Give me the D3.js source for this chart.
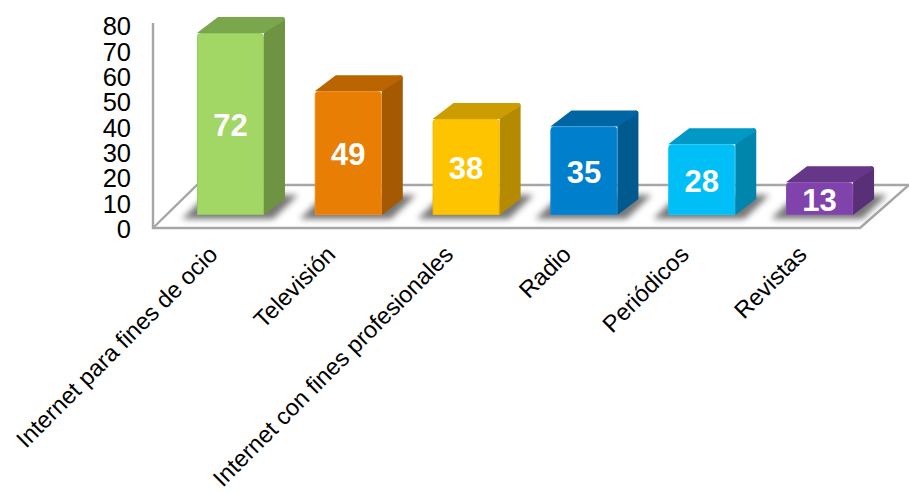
<!DOCTYPE html>
<html lang="es">
<head>
<meta charset="utf-8">
<style>
  html, body { margin: 0; padding: 0; background: #fff; }
  svg { display: block; font-family: "Liberation Sans", Arial, sans-serif; }
</style>
</head>
<body>
<svg id="chart" width="909" height="494"></svg>
<script src="https://cdn.jsdelivr.net/npm/d3@7/dist/d3.min.js"></script>
<script>
// Audience shares per medium
const categories = ["Internet para fines de ocio", "Televisión", "Internet con fines profesionales", "Radio", "Periódicos", "Revistas"];
const values = [72, 49, 38, 35, 28, 13];
const tickValues = [0, 10, 20, 30, 40, 50, 60, 70, 80];
const frontColors = ["#a2d665", "#e87e04", "#ffc400", "#0080cc", "#00bef6", "#8043ab"];
const edgeColors = ["#93c95a", "#f08a10", "#f2b800", "#0a8ad6", "#12c4fa", "#8a4db5"];
const topColors = ["#7ba74c", "#bb6502", "#cc9d00", "#0066a3", "#0098c5", "#663689"];
const sideColors = ["#6e9443", "#a45902", "#b38a00", "#005a8f", "#0085ad", "#592f78"];

const svg = d3.select("#chart");
const defs = svg.append("defs");
defs.append("filter").attr("id", "soft")
  .attr("x", "-30%").attr("y", "-60%").attr("width", "160%").attr("height", "220%")
  .append("feGaussianBlur").attr("stdDeviation", 3);

// Oblique projection: the bars sit mid-way across a floor seen from above
const baseY = 215;
const depthX = 21, depthY = 16;
const corner = 3;
const y = d3.scaleLinear().domain([0, 72]).range([baseY, baseY - 182]);
const x = d3.scaleBand().domain(categories).range([171.6, 878.4]).paddingInner(0.431).paddingOuter(0.215);

const wallX = 153, floorFrontY = 228, floorBackY = 185, wallTopY = 23;
const floorRight = 860, floorDX = 49;
const frameColor = "#a6a6a6";

// Floor and wall outline
const frame = svg.append("g").attr("fill", "none").attr("stroke", frameColor).attr("stroke-width", 2.4);
frame.append("path").attr("d", `M${wallX},${wallTopY}V${floorFrontY}H${floorRight}L${floorRight + floorDX},${floorBackY}`);
frame.append("path").attr("d", `M${wallX},${floorFrontY}L${wallX + floorDX - 5},${floorBackY}H${floorRight + floorDX}`);

// Value axis labels
const tickY = d3.scaleLinear().domain([0, 80]).range([229, 26]);
svg.append("g").selectAll("text").data(tickValues).join("text")
  .attr("x", 131).attr("y", d => tickY(d)).attr("dy", "0.36em")
  .attr("text-anchor", "end").attr("font-size", 25.5).attr("fill", "#000")
  .text(d => d);

const rows = categories.map((c, i) => ({ c, v: values[i], i }));

// Cast shadows on the floor
svg.append("g").selectAll("path").data(rows).join("path")
  .attr("d", d => {
    const l = x(d.c), w = x.bandwidth();
    return `M${l - 15},${baseY + 4}L${l + 10},${baseY - 20}H${l + w + 34}L${l + w + 9},${baseY + 4}Z`;
  })
  .attr("fill", "#5f5f5f").attr("opacity", 0.85).attr("filter", "url(#soft)");

const bars = svg.append("g").selectAll("g").data(rows).join("g");

// Right-hand face
bars.append("path")
  .attr("d", d => {
    const r = x(d.c) + x.bandwidth(), t = y(d.v);
    return `M${r},${baseY}L${r + depthX},${baseY - depthY}V${t - depthY + corner}Q${r + depthX},${t - depthY} ${r + depthX - corner},${t - depthY}L${r},${t}Z`;
  })
  .attr("fill", d => sideColors[d.i]);

// Top face
bars.append("path")
  .attr("d", d => {
    const l = x(d.c), r = l + x.bandwidth(), t = y(d.v);
    return `M${l},${t}L${l + depthX},${t - depthY}H${r + depthX - corner}Q${r + depthX},${t - depthY} ${r + depthX},${t - depthY + corner}L${r},${t}Z`;
  })
  .attr("fill", d => topColors[d.i]);

// Front face with a thin bevelled rim
bars.append("path")
  .attr("d", d => {
    const l = x(d.c) + 0.5, r = x(d.c) + x.bandwidth() - 0.5, t = y(d.v) + 0.5;
    return `M${l},${baseY - 0.5}V${t + corner}Q${l},${t} ${l + corner},${t}H${r - corner}Q${r},${t} ${r},${t + corner}V${baseY - 0.5}Z`;
  })
  .attr("fill", d => frontColors[d.i])
  .attr("stroke", d => edgeColors[d.i]).attr("stroke-width", 1);

// Value labels centred on the front faces
bars.append("text")
  .attr("x", d => x(d.c) + x.bandwidth() / 2)
  .attr("y", d => (y(d.v) + baseY) / 2 + 1)
  .attr("dy", "0.36em")
  .attr("text-anchor", "middle").attr("font-size", 31).attr("font-weight", "bold").attr("fill", "#fff")
  .text(d => d.v);

// Slanted category labels
svg.append("g").selectAll("text").data(rows).join("text")
  .attr("transform", d => `translate(${x(d.c) + x.bandwidth() / 2 - 17.5},${250}) rotate(-45)`)
  .attr("text-anchor", "end").attr("dy", "0.36em").attr("font-size", 23.6).attr("fill", "#000")
  .text(d => d.c);
</script>
</body>
</html>
